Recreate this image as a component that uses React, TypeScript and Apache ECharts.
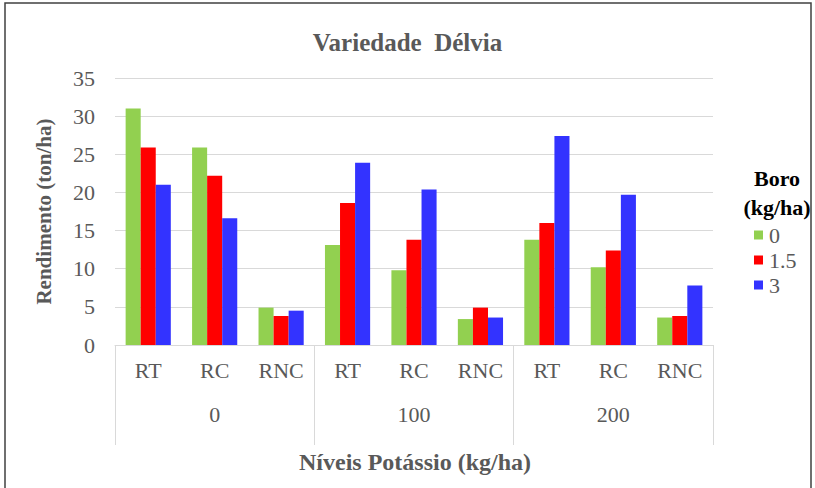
import React, { useEffect, useRef } from "react";
import * as echarts from "echarts";

const categories = ["RT", "RC", "RNC", "RT", "RC", "RNC", "RT", "RC", "RNC"];
const groups = ["0", "100", "200"];
const seriesNames = ["0", "1.5", "3"];
const boro0 = [31.0, 25.9, 4.9, 13.1, 9.8, 3.4, 13.8, 10.2, 3.6];
const boro15 = [25.9, 22.2, 3.8, 18.6, 13.8, 4.9, 16.0, 12.4, 3.8];
const boro3 = [21.0, 16.6, 4.5, 23.9, 20.4, 3.6, 27.4, 19.7, 7.8];
const yTicks = { min: 0, max: 35, interval: 5 };

const FONT = "Liberation Serif";
const GRAY = "#595959";
const LINE = "#d9d9d9";

export default function App() {
  const ref = useRef<HTMLDivElement>(null);
  useEffect(() => {
    document.body.style.margin = "0";
    const chart = echarts.init(ref.current!, null, { renderer: "svg" });
    const values = [boro0, boro15, boro3];
    const colors = ["#92d050", "#ff0000", "#3333ff"];
    chart.setOption({
      animation: false,
      backgroundColor: "#ffffff",
      textStyle: { fontFamily: FONT },
      title: {
        text: "Variedade  Délvia",
        left: "center",
        top: 25,
        textStyle: { fontFamily: FONT, fontSize: 25, fontWeight: "bold", color: GRAY },
      },
      grid: { left: 115, right: 102, top: 78, bottom: 143, containLabel: false },
      legend: {
        orient: "vertical",
        left: 754,
        top: 224,
        padding: 0,
        itemWidth: 9,
        itemHeight: 9,
        itemGap: 3,
        icon: "rect",
        data: seriesNames,
        textStyle: { fontFamily: FONT, fontSize: 22, color: GRAY, padding: [0, 0, 0, 1] },
      },
      xAxis: [
        {
          type: "category",
          data: categories,
          axisLine: { show: true, lineStyle: { color: LINE, width: 1 } },
          axisTick: { show: false },
          axisLabel: { fontFamily: FONT, fontSize: 22, color: GRAY, margin: 14 },
        },
        {
          type: "category",
          data: groups,
          position: "bottom",
          axisLine: { show: false },
          axisTick: { show: true, length: 100, lineStyle: { color: LINE, width: 1 } },
          axisLabel: { fontFamily: FONT, fontSize: 22, color: GRAY, margin: 58 },
        },
      ],
      yAxis: {
        type: "value",
        min: yTicks.min,
        max: yTicks.max,
        interval: yTicks.interval,
        axisLine: { show: false },
        axisTick: { show: false },
        splitLine: { lineStyle: { color: LINE, width: 1 } },
        axisLabel: { fontFamily: FONT, fontSize: 22, color: GRAY, margin: 20 },
        name: "Rendimento (ton/ha)",
        nameLocation: "middle",
        nameGap: 61,
        nameTextStyle: { fontFamily: FONT, fontSize: 21, fontWeight: "bold", color: GRAY },
      },
      series: seriesNames.map((n, i) => ({
        name: n,
        type: "bar",
        xAxisIndex: 0,
        data: values[i],
        barGap: "0%",
        barCategoryGap: "32%",
        itemStyle: { color: colors[i] },
      })),
      graphic: [
        {
          type: "rect",
          shape: { x: 5, y: 3, width: 806, height: 495 },
          style: { fill: "none", stroke: "#404040", lineWidth: 1.5 },
          silent: true,
        },
        {
          type: "text",
          x: 777,
          y: 178,
          style: {
            text: "Boro",
            fontFamily: FONT,
            fontSize: 22,
            fontWeight: "bold",
            fill: "#000000",
            align: "center",
            verticalAlign: "middle",
          },
        },
        {
          type: "text",
          x: 777,
          y: 207,
          style: {
            text: "(kg/ha)",
            fontFamily: FONT,
            fontSize: 22,
            fontWeight: "bold",
            fill: "#000000",
            align: "center",
            verticalAlign: "middle",
          },
        },
        {
          type: "text",
          x: 415,
          y: 462,
          style: {
            text: "Níveis Potássio (kg/ha)",
            fontFamily: FONT,
            fontSize: 24,
            fontWeight: "bold",
            fill: GRAY,
            align: "center",
            verticalAlign: "middle",
          },
        },
      ],
    });
    return () => chart.dispose();
  }, []);
  return <div ref={ref} style={{ width: 815, height: 488 }} />;
}
